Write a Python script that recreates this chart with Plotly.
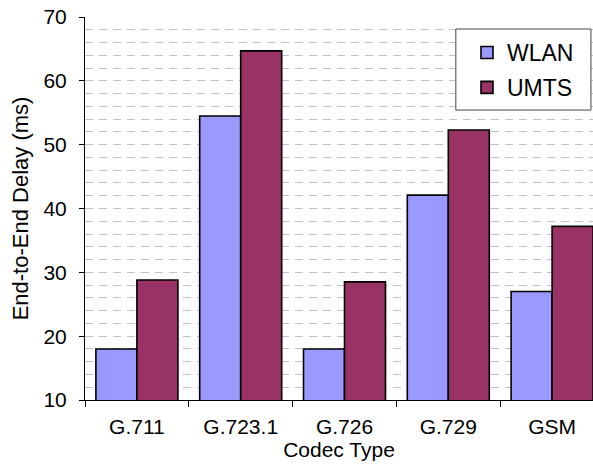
import plotly.graph_objects as go

categories = ["G.711", "G.723.1", "G.726", "G.729", "GSM"]
wlan = [18.0, 54.5, 18.0, 42.1, 27.0]
umts = [28.8, 64.7, 28.5, 52.3, 37.2]
y_ticks = [10, 20, 30, 40, 50, 60, 70]

FONT = "Liberation Sans, Arial, sans-serif"

fig = go.Figure()
fig.add_trace(go.Bar(name="WLAN", x=categories, y=wlan, marker=dict(color="#9999FF", line=dict(color="black", width=1.6)), legendgroup="a"))
fig.add_trace(go.Bar(name="UMTS", x=categories, y=umts, marker=dict(color="#993366", line=dict(color="black", width=1.6)), legendgroup="b"))

# legend frame
fig.add_shape(type="rect", xref="paper", yref="paper", x0=0.730, x1=0.996, y0=0.757, y1=0.9687,
              line=dict(color="#444", width=1), fillcolor="white", layer="above")

fig.update_layout(
    width=593, height=466,
    margin=dict(l=85, r=0, t=17, b=66, autoexpand=False),
    paper_bgcolor="white", plot_bgcolor="white",
    barmode="group", bargap=0.21, bargroupgap=0,
    font=dict(family=FONT, size=21, color="black"),
    legend=dict(x=(467 - 85) / 508, y=(400 - 31) / 383, xanchor="left", yanchor="top",
                borderwidth=0, bgcolor="rgba(0,0,0,0)",
                font=dict(size=23), tracegroupgap=2, traceorder="grouped"),
    xaxis=dict(
        range=[-0.5, 4.394], showline=True, linecolor="black", linewidth=1,
        ticks="outside", tickson="boundaries", ticklen=6, tickcolor="black",
        ticklabelstandoff=8,
        title=dict(text="Codec Type", standoff=0, font=dict(size=21)),
        showgrid=False,
    ),
    yaxis=dict(
        range=[10, 70], tickvals=y_ticks, showline=True, linecolor="black", linewidth=1,
        ticks="outside", ticklen=5, tickcolor="black", ticklabelstandoff=8,
        showgrid=True, gridcolor="#C0C0C0", griddash="8px,6px", gridwidth=1,
        minor=dict(dtick=2, showgrid=True, gridcolor="#C0C0C0", griddash="8px,6px", gridwidth=1, ticks=""),
        title=dict(text="End-to-End Delay (ms)", standoff=8, font=dict(size=22)),
        zeroline=False,
    ),
)

fig.write_html("out.html")
